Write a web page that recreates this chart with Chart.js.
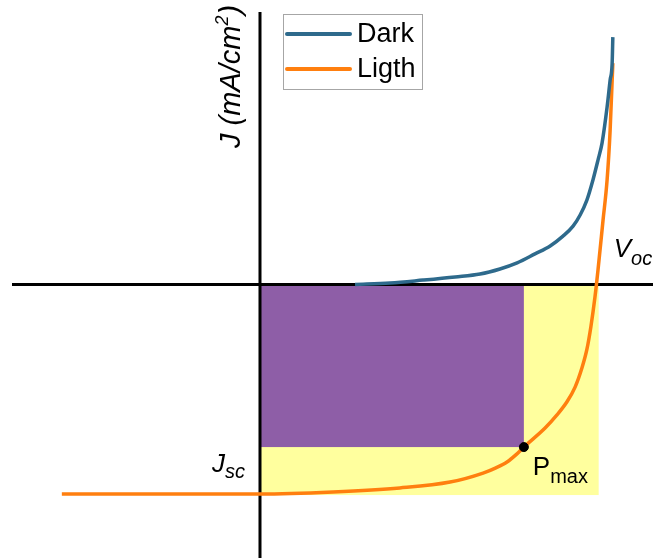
<!DOCTYPE html>
<html>
<head>
<meta charset="utf-8">
<script src="https://cdn.jsdelivr.net/npm/chart.js@4/dist/chart.umd.min.js"></script>
<style>
  html, body { margin: 0; padding: 0; background: #ffffff; }
  #wrap { width: 653px; height: 558px; }
</style>
</head>
<body>
<div id="wrap"><canvas id="jv" width="653" height="558"></canvas></div>
<script>
// J–V characteristic of a solar cell (normalised units: Voc = 1, Jsc = -1)
const lightV = [-0.588, -0.415, -0.237, 0.000, 0.217, 0.415, 0.564, 0.662, 0.700, 0.733, 0.760, 0.783, 0.846, 0.880, 0.911, 0.935, 0.955, 0.970, 0.982, 0.994, 1.003, 1.018, 1.030, 1.039, 1.047];
const lightJ = [-1.000, -1.000, -1.000, -1.000, -0.990, -0.971, -0.943, -0.900, -0.875, -0.847, -0.812, -0.776, -0.685, -0.625, -0.560, -0.490, -0.400, -0.310, -0.200, -0.060, 0.069, 0.308, 0.499, 0.737, 1.057];

const darkV = [0.282, 0.386, 0.484, 0.579, 0.653, 0.712, 0.763, 0.816, 0.861, 0.899, 0.929, 0.950, 0.970, 0.988, 1.003, 1.015, 1.030, 1.039, 1.045, 1.047];
const darkJ = [0.000, 0.007, 0.021, 0.036, 0.050, 0.074, 0.103, 0.146, 0.184, 0.231, 0.279, 0.332, 0.403, 0.499, 0.594, 0.675, 0.847, 0.976, 1.057, 1.181];

// Characteristic points
const vOC = 1.005;
const jSC = -1.005;
const vMP = 0.783;
const jMP = -0.776;

const seriesNames = ['Dark', 'Ligth'];

const toPoints = (xs, ys) => xs.map((x, i) => ({ x: x, y: ys[i] }));

const COLORS = {
  dark: '#2e6a8c',
  light: '#ff7f0f',
  yellow: '#ffff9e',
  purple: '#8e5ea7',
  axis: '#000000'
};

const FONT = '"Liberation Sans", Arial, sans-serif';

// Draws a main symbol followed by a lowered subscript
function subText(ctx, main, sub, x, y, mainSize, subSize, drop, italicMain, italicSub) {
  ctx.font = (italicMain ? 'italic ' : '') + mainSize + 'px ' + FONT;
  ctx.fillText(main, x, y);
  const w = ctx.measureText(main).width;
  ctx.font = (italicSub ? 'italic ' : '') + subSize + 'px ' + FONT;
  ctx.fillText(sub, x + w, y + drop);
}

// Rectangles, axes and annotation text, drawn through the chart's scales
const annotations = {
  id: 'annotations',
  beforeDatasetsDraw(chart) {
    const { ctx, scales: { x, y } } = chart;
    const X = v => x.getPixelForValue(v);
    const Y = v => y.getPixelForValue(v);
    ctx.save();
    // Maximum theoretical power: Voc × Jsc
    ctx.fillStyle = COLORS.yellow;
    ctx.fillRect(X(0), Y(0), X(vOC) - X(0), Y(jSC) - Y(0));
    // Maximum power rectangle: Vmp × Jmp
    ctx.fillStyle = COLORS.purple;
    ctx.fillRect(X(0), Y(0), X(vMP) - X(0), Y(jMP) - Y(0));

    // Axes through the origin
    ctx.strokeStyle = COLORS.axis;
    ctx.lineWidth = 3;
    ctx.beginPath();
    ctx.moveTo(12, Y(0));
    ctx.lineTo(chart.chartArea.right, Y(0));
    ctx.moveTo(X(0), 12);
    ctx.lineTo(X(0), chart.chartArea.bottom);
    ctx.stroke();
    ctx.restore();
  },
  afterDatasetsDraw(chart) {
    const { ctx, scales: { x, y } } = chart;
    const X = v => x.getPixelForValue(v);
    const Y = v => y.getPixelForValue(v);
    ctx.save();
    ctx.fillStyle = '#000000';
    ctx.textBaseline = 'alphabetic';
    ctx.textAlign = 'left';

    // Y axis title, reading upwards
    ctx.save();
    ctx.translate(X(0) - 20, 148);
    ctx.rotate(-Math.PI / 2);
    ctx.font = 'italic 29px ' + FONT;
    const t1 = 'J (mA/cm';
    const w1 = ctx.measureText(t1).width;
    ctx.fillText(t1, 0, 0);
    ctx.font = 'italic 18px ' + FONT;
    ctx.fillText('2', w1, -12);
    const w2 = ctx.measureText('2').width;
    ctx.font = 'italic 29px ' + FONT;
    ctx.fillText(')', w1 + w2 + 1, 0);
    ctx.restore();

    // V_oc
    subText(ctx, 'V', 'oc', X(vOC) + 15, Y(0) - 27, 26, 20, 8, true, true);
    // J_sc
    subText(ctx, 'J', 'sc', X(0) - 48, Y(jSC) - 23, 26, 20, 6, true, true);
    // P_max
    subText(ctx, 'P', 'max', X(vMP) + 9, Y(jMP) + 28, 26, 20, 8, false, false);

    // Legend box
    const lx = 283, ly = 14, lw = 139, lh = 75;
    ctx.fillStyle = '#ffffff';
    ctx.fillRect(lx, ly, lw, lh);
    ctx.strokeStyle = '#a6a6a6';
    ctx.lineWidth = 1;
    ctx.strokeRect(lx + 0.5, ly + 0.5, lw, lh);
    const rows = [ly + 20, ly + 55];
    chart.data.datasets.slice(0, 2).forEach((ds, i) => {
      ctx.strokeStyle = ds.borderColor;
      ctx.lineWidth = 4;
      ctx.lineCap = 'round';
      ctx.beginPath();
      ctx.moveTo(lx + 4, rows[i]);
      ctx.lineTo(lx + 67, rows[i]);
      ctx.stroke();
      ctx.fillStyle = '#000000';
      ctx.font = '27px ' + FONT;
      ctx.textBaseline = 'middle';
      ctx.fillText(ds.label, lx + 74, rows[i] + 1);
    });
    ctx.restore();
  }
};

new Chart(document.getElementById('jv'), {
  type: 'line',
  data: {
    datasets: [
      {
        label: seriesNames[0],
        data: toPoints(darkV, darkJ),
        borderColor: COLORS.dark,
        borderWidth: 3.5,
        pointRadius: 0,
        cubicInterpolationMode: 'monotone',
        fill: false
      },
      {
        label: seriesNames[1],
        data: toPoints(lightV, lightJ),
        borderColor: COLORS.light,
        borderWidth: 3.5,
        pointRadius: 0,
        cubicInterpolationMode: 'monotone',
        fill: false
      },
      {
        label: 'Pmax',
        type: 'scatter',
        order: -1,
        data: [{ x: vMP, y: jMP }],
        backgroundColor: '#000000',
        borderColor: '#000000',
        pointRadius: 4.5
      }
    ]
  },
  options: {
    responsive: false,
    devicePixelRatio: 1,
    animation: false,
    layout: { padding: 0, autoPadding: false },
    plugins: { legend: { display: false }, tooltip: { enabled: false } },
    scales: {
      x: { type: 'linear', min: -0.7715, max: 1.1662, display: false },
      y: { type: 'linear', min: -1.3055, max: 1.358, display: false }
    }
  },
  plugins: [annotations]
});
</script>
</body>
</html>
